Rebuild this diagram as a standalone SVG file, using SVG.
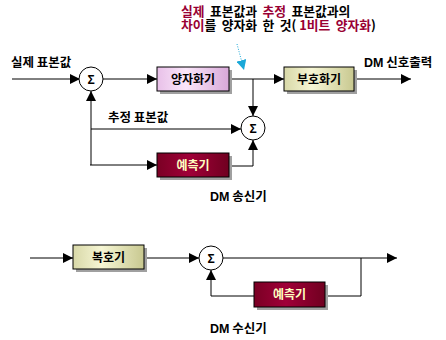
<svg xmlns="http://www.w3.org/2000/svg" width="446" height="340" viewBox="0 0 446 340">
<style>
text{font-family:"Noto Sans CJK KR","Liberation Sans",sans-serif;font-weight:bold;font-size:12px;fill:#000}
.r{fill:#990033}
.lt{fill:#ffffc0}
.t{font-size:12.8px;word-spacing:2.5px}
.l{font-size:12.5px}
.w{font-family:"Liberation Sans","Noto Sans CJK KR",sans-serif}
.ln{stroke:#000;stroke-width:1;fill:none}
.sh{fill:#a0a0a0}
.bx{stroke:#000;stroke-width:1}
.sig{fill:#fff;stroke:#000;stroke-width:1}
</style>
<defs>
<marker id="a" viewBox="0 0 10 10" refX="10" refY="5" markerWidth="10" markerHeight="10" markerUnits="userSpaceOnUse" orient="auto"><path d="M0,0L10,5L0,10z" fill="#000"/></marker>
<marker id="c" viewBox="0 0 10 10" refX="10" refY="5" markerWidth="10" markerHeight="10" markerUnits="userSpaceOnUse" orient="auto"><path d="M0,0L10,5L0,10z" fill="#1aa8d8"/></marker>
<linearGradient id="gp" x1="0" y1="0" x2="1" y2="0"><stop offset="0" stop-color="#e8c0e8"/><stop offset="0.4" stop-color="#fae6fa"/><stop offset="1" stop-color="#d8a8d8"/></linearGradient>
<linearGradient id="gy" x1="0" y1="0" x2="1" y2="0"><stop offset="0" stop-color="#d8d8a8"/><stop offset="0.4" stop-color="#f6f6d4"/><stop offset="1" stop-color="#c8c890"/></linearGradient>
<linearGradient id="gm" x1="0" y1="0" x2="1" y2="0"><stop offset="0" stop-color="#7a0024"/><stop offset="0.45" stop-color="#a00038"/><stop offset="1" stop-color="#700020"/></linearGradient>
</defs>
<g id="connectors">
<path class="ln" d="M12,79H80" marker-end="url(#a)"/>
<path class="ln" d="M103,79H157" marker-end="url(#a)"/>
<path class="ln" d="M229,79H284" marker-end="url(#a)"/>
<path class="ln" d="M354,79H411" marker-end="url(#a)"/>
<path class="ln" d="M253,79V116" marker-end="url(#a)"/>
<path class="ln" d="M91,165V91" marker-end="url(#a)"/>
<path class="ln" d="M91,129H241" marker-end="url(#a)"/>
<path class="ln" d="M90,165H157" marker-end="url(#a)"/>
<path class="ln" d="M229,166H253V140" marker-end="url(#a)"/>
<path d="M237,44L244,70" stroke="#1aa8d8" stroke-width="1" stroke-dasharray="1,1.5" fill="none" marker-end="url(#c)"/>
<path class="ln" d="M30,258H73" marker-end="url(#a)"/>
<path class="ln" d="M144,258H199" marker-end="url(#a)"/>
<path class="ln" d="M223,258H397" marker-end="url(#a)"/>
<path class="ln" d="M361,258V296H325"/>
<path class="ln" d="M254,296H211V270" marker-end="url(#a)"/>
</g>
<g id="sum1"><circle class="sig" cx="91" cy="79" r="12"/><text x="91" y="84" text-anchor="middle" class="w" font-size="14">Σ</text></g>
<g id="sum2"><circle class="sig" cx="253" cy="128" r="12"/><text x="253" y="133" text-anchor="middle" class="w" font-size="14">Σ</text></g>
<g id="sum3"><circle class="sig" cx="211" cy="258" r="12"/><text x="211" y="263" text-anchor="middle" class="w" font-size="14">Σ</text></g>
<g id="quantizer"><rect class="sh" x="160" y="70" width="72" height="24"/><rect class="bx" x="157" y="67" width="72" height="24" fill="url(#gp)"/><text x="193" y="84" text-anchor="middle">양자화기</text></g>
<g id="encoder"><rect class="sh" x="287" y="70" width="70" height="24"/><rect class="bx" x="284" y="67" width="70" height="24" fill="url(#gy)"/><text x="319" y="84" text-anchor="middle">부호화기</text></g>
<g id="predictor1"><rect class="sh" x="160" y="156" width="72" height="24"/><rect class="bx" x="157" y="153" width="72" height="24" fill="url(#gm)"/><text x="193" y="170" text-anchor="middle" class="lt">예측기</text></g>
<g id="decoder"><rect class="sh" x="76" y="248" width="71" height="24"/><rect class="bx" x="73" y="245" width="71" height="24" fill="url(#gy)"/><text x="108.5" y="262" text-anchor="middle">복호기</text></g>
<g id="predictor2"><rect class="sh" x="257" y="285" width="71" height="25"/><rect class="bx" x="254" y="282" width="71" height="25" fill="url(#gm)"/><text x="289.5" y="299" text-anchor="middle" class="lt">예측기</text></g>
<g id="labels">
<text class="l" x="11" y="67">실제 표본값</text>
<text class="l" x="108" y="122">추정 표본값</text>
<text class="l" x="364" y="67"><tspan class="w">DM</tspan> 신호출력</text>
<text class="l" x="210" y="201"><tspan class="w">DM</tspan> 송신기</text>
<text class="l" x="210" y="333"><tspan class="w">DM</tspan> 수신기</text>
<text class="t" x="181" y="16"><tspan class="r">실제</tspan> 표본값과 <tspan class="r">추정</tspan> 표본값과의</text>
<text class="t" x="181" y="30"><tspan class="r">차이</tspan>를 양자화 한 것(<tspan class="r" dx="3">1비트 양자화</tspan>)</text>
</g>
</svg>
